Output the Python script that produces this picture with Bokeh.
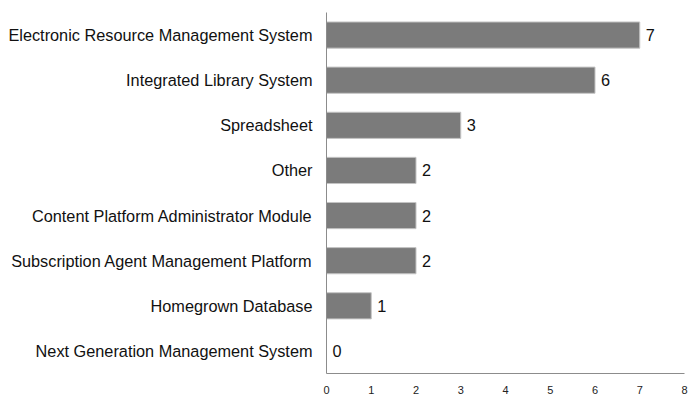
from bokeh.plotting import figure
from bokeh.models import ColumnDataSource, Range1d, FixedTicker
from bokeh.embed import file_html
from bokeh.resources import INLINE
from bokeh.core.properties import value

categories = [
    "Electronic Resource Management System",
    "Integrated Library System",
    "Spreadsheet",
    "Other",
    "Content Platform Administrator Module",
    "Subscription Agent Management Platform",
    "Homegrown Database",
    "Next Generation Management System",
]
counts = [7, 6, 3, 2, 2, 2, 1, 0]
x_ticks = [0, 1, 2, 3, 4, 5, 6, 7, 8]

order = list(reversed(categories))
src = ColumnDataSource(dict(cat=categories, val=counts, lab=[str(v) for v in counts]))

p = figure(
    width=692, height=400,
    y_range=order, x_range=Range1d(0, 8),
    output_backend="svg", toolbar_location=None,
    min_border_left=326, min_border_right=8, min_border_top=12, min_border_bottom=27,
)
p.outline_line_color = None
p.grid.grid_line_color = None
p.background_fill_color = "white"
p.border_fill_color = "white"

p.hbar(y="cat", right="val", left=0, height=0.58, source=src,
       fill_color="#7b7b7b", line_color="#c4c4c4", line_width=1)

p.text(x="val", y="cat", text="lab", source=src, x_offset=6,
       text_align="left", text_baseline="middle",
       text_font=value("Liberation Sans"), text_font_size="16.3px",
       text_color="#111111")

# x axis
p.xaxis.ticker = FixedTicker(ticks=x_ticks)
p.xaxis.major_tick_line_color = None
p.xaxis.major_tick_out = 0
p.xaxis.major_tick_in = 0
p.xaxis.minor_tick_line_color = None
p.xaxis.axis_line_color = "#8c8c8c"
p.xaxis.major_label_text_font = "Liberation Sans"
p.xaxis.major_label_text_font_size = "11px"
p.xaxis.major_label_text_color = "#222222"
p.xaxis.major_label_standoff = 12

# y axis
p.yaxis.major_tick_line_color = None
p.yaxis.major_tick_out = 0
p.yaxis.major_tick_in = 0
p.yaxis.minor_tick_line_color = None
p.yaxis.axis_line_color = "#8c8c8c"
p.yaxis.major_label_text_font = "Liberation Sans"
p.yaxis.major_label_text_font_size = "16.3px"
p.yaxis.major_label_text_color = "#111111"
p.yaxis.major_label_standoff = 14

open("out.html", "w").write(file_html(p, INLINE))
